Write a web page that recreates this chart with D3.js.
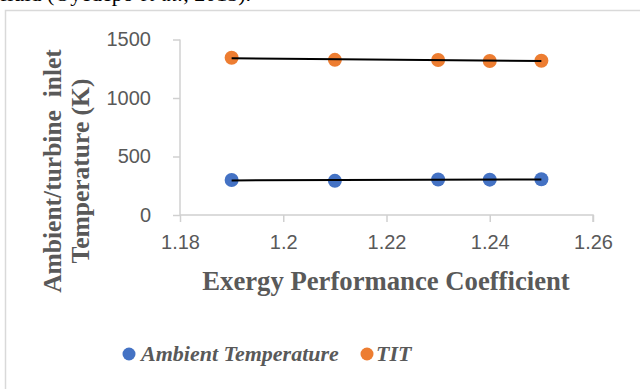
<!DOCTYPE html>
<html>
<head>
<meta charset="utf-8">
<script src="https://cdn.jsdelivr.net/npm/d3@7"></script>
<style>
  html, body { margin: 0; padding: 0; background: #fff; }
  svg { display: block; }
</style>
</head>
<body>
<script>
// Exergy performance coefficient vs. ambient and turbine inlet temperatures
const epc = [1.19, 1.21, 1.23, 1.24, 1.25];
const ambientTemp = [299, 292, 304, 302, 305];
const tit = [1344, 1326, 1325, 1316, 1319];
const xTicks = [1.18, 1.2, 1.22, 1.24, 1.26];
const yTicks = [0, 500, 1000, 1500];
const seriesNames = ["Ambient Temperature", "TIT"];
const seriesColors = ["#4472C4", "#ED7D31"];

const W = 640, H = 389;
const svg = d3.select("body").append("svg").attr("width", W).attr("height", H);

const serif = "'Liberation Serif', 'Times New Roman', serif";
const sans = "'Liberation Sans', Arial, sans-serif";
const textGray = "#595959";
const axisGray = "#d0d0d0";

// Running text above the chart frame
const cap = svg.append("text")
  .attr("x", 0).attr("y", 1)
  .attr("font-family", serif).attr("font-size", 22).attr("fill", "#000");
cap.append("tspan").text("fluid (Oyedepo ");
cap.append("tspan").attr("font-style", "italic").text("et al.");
cap.append("tspan").text(", 2015).");

// Chart frame
svg.append("rect")
  .attr("x", 5.5).attr("y", 10.5).attr("width", 700).attr("height", 500)
  .attr("fill", "none").attr("stroke", "#d9d9d9").attr("stroke-width", 1.5);

const x = d3.scaleLinear().domain([1.18, 1.26]).range([180, 593]);
const y = d3.scaleLinear().domain([0, 1500]).range([215, 39.5]);

// Y axis
const yAxis = svg.append("g").attr("transform", `translate(${x.range()[0]},0)`)
  .call(d3.axisLeft(y).tickValues(yTicks).tickSize(7).tickPadding(22).tickFormat(d3.format("d")));
// X axis
const xAxis = svg.append("g").attr("transform", `translate(0,${y(0)})`)
  .call(d3.axisBottom(x).tickValues(xTicks).tickSize(7).tickPadding(13).tickFormat(d => String(d)));

[yAxis, xAxis].forEach(a => {
  a.select(".domain").attr("stroke", axisGray).attr("stroke-width", 1.5);
  a.selectAll(".tick line").attr("stroke", axisGray).attr("stroke-width", 1.5);
  a.selectAll(".tick text").attr("fill", textGray).attr("font-family", sans).attr("font-size", 20);
});
// plain axis lines without outer ticks (the x axis keeps its end tick)
yAxis.select(".domain").attr("d", `M0,${y(1500)}V${y(0)}`);
xAxis.select(".domain").attr("d", `M${x(1.18)},0H${x(1.26)}V7`);

// Axis titles
svg.append("text")
  .attr("x", 386).attr("y", 290).attr("text-anchor", "middle")
  .attr("font-family", serif).attr("font-weight", "bold").attr("font-size", 26.7)
  .attr("fill", textGray).text("Exergy Performance Coefficient");

const yTitle = svg.append("g").attr("transform", "translate(0,171) rotate(-90)");
yTitle.append("text").attr("x", 0).attr("y", 61).attr("text-anchor", "middle")
  .attr("font-family", serif).attr("font-weight", "bold").attr("font-size", 25.5)
  .attr("fill", textGray).attr("xml:space", "preserve").text("Ambient/turbine  inlet");
yTitle.append("text").attr("x", 0).attr("y", 89).attr("text-anchor", "middle")
  .attr("font-family", serif).attr("font-weight", "bold").attr("font-size", 25.5)
  .attr("fill", textGray).text("Temperature (K)");

// Points and linear trendlines
const series = [ambientTemp, tit];
function linReg(xs, ys) {
  const mx = d3.mean(xs), my = d3.mean(ys);
  const sxy = d3.sum(xs, (v, i) => (v - mx) * (ys[i] - my));
  const sxx = d3.sum(xs, v => (v - mx) ** 2);
  const b = sxy / sxx;
  return v => my + b * (v - mx);
}
series.forEach((vals, si) => {
  svg.append("g").selectAll("circle")
    .data(vals).join("circle")
    .attr("cx", (d, i) => x(epc[i])).attr("cy", d => y(d))
    .attr("r", 7).attr("fill", seriesColors[si]);
});
series.forEach(vals => {
  const f = linReg(epc, vals);
  const ends = d3.extent(epc);
  svg.append("line")
    .attr("x1", x(ends[0])).attr("y1", y(f(ends[0])))
    .attr("x2", x(ends[1])).attr("y2", y(f(ends[1])))
    .attr("stroke", "#000").attr("stroke-width", 2);
});

// Legend
const legendX = [129, 367];
const legendGap = [12, 9];
seriesNames.forEach((name, i) => {
  svg.append("circle").attr("cx", legendX[i]).attr("cy", 354).attr("r", 6.5).attr("fill", seriesColors[i]);
  svg.append("text").attr("x", legendX[i] + legendGap[i]).attr("y", 361)
    .attr("font-family", serif).attr("font-weight", "bold").attr("font-style", "italic")
    .attr("font-size", 22).attr("fill", textGray).text(name);
});
</script>
</body>
</html>
